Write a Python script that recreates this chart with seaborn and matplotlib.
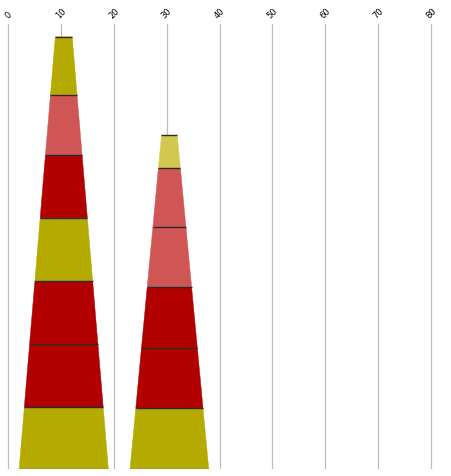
import matplotlib
matplotlib.use("Agg")
from matplotlib import pyplot as plt
import seaborn as sns
import numpy as np

# stacked cone data (bottom -> top)
stack_x = [10.5, 30.5]
stack1_values = [1.00, 1.01, 1.02, 1.02, 1.01, 0.98, 0.93]
stack1_colors = ["#b4aa00", "#b20000", "#b20000", "#b4aa00", "#b20000", "#d05555", "#b4aa00"]
stack2_values = [0.98, 0.97, 0.98, 0.97, 0.95, 0.53]
stack2_colors = ["#b4aa00", "#b20000", "#b20000", "#d05555", "#d05555", "#d2c850"]
x_ticks = [0, 10, 20, 30, 40, 50, 60, 70, 80]

# cone shape (base width, top width) in x units
base_w = [16.9, 14.9]
top_w = [3.2, 3.0]

sns.set_style("white")
plt.rcParams['font.family'] = ['DejaVu Sans']

fig = plt.figure(figsize=(4.52, 4.77), dpi=100)
ax = fig.add_axes([0, 7 / 477, 1, 445 / 477])

stacks = [(stack1_values, stack1_colors), (stack2_values, stack2_colors)]
for i, (vals, cols) in enumerate(stacks):
    total = sum(vals)
    cx = stack_x[i]
    bounds = np.concatenate([[0], np.cumsum(vals)])

    def width_at(h):
        return base_w[i] + (top_w[i] - base_w[i]) * h / total

    for j, c in enumerate(cols):
        y0, y1 = bounds[j], bounds[j + 1]
        w0, w1 = width_at(y0), width_at(y1)
        ax.fill([cx - w0 / 2, cx + w0 / 2, cx + w1 / 2, cx - w1 / 2],
                [y0, y0, y1, y1], color=c, edgecolor=c, linewidth=0.3, zorder=2)
    # boundary lines
    for j, y in enumerate(bounds):
        w = width_at(y)
        lc = "#808070" if j == 0 else "#2a2a2a"
        ax.plot([cx - w / 2, cx + w / 2], [y, y], color=lc, linewidth=1.0, zorder=3,
                solid_capstyle="butt")

ax.set_xlim(-1.57, 84.0)
ax.set_ylim(0, 445 / 62)
ax.set_xticks(x_ticks)
ax.set_xticklabels([str(t) for t in x_ticks], rotation=45, fontsize=6,
                   ha="center", va="bottom")
ax.xaxis.tick_top()
ax.tick_params(axis="x", length=0, pad=3, colors="#000000")
ax.set_yticks([])
ax.grid(axis="x", color="#bcbcbc", linewidth=0.9)
ax.set_axisbelow(True)
for s in ax.spines.values():
    s.set_visible(False)

fig.savefig("out.png", dpi=100)
